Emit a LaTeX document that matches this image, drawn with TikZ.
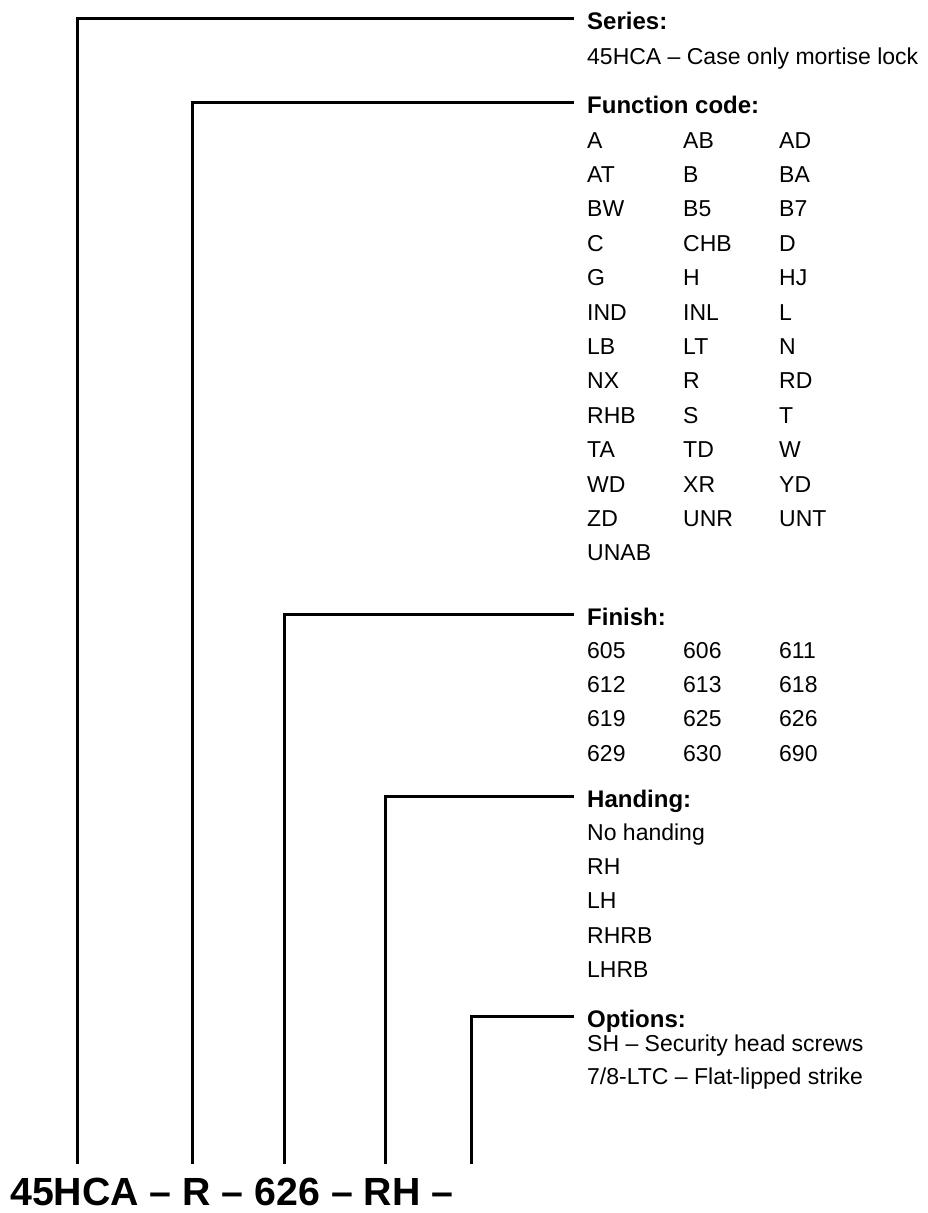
\documentclass[tikz,border=0pt]{standalone}
\usepackage{fontspec}
\setmainfont{Liberation Sans}
\usepackage{tikz}
\usetikzlibrary{positioning}
\tikzset{
  keyline/.style={line width=3pt},
  hdbox/.style={anchor=base west, inner xsep=13pt, inner ysep=0pt,
    text height=21pt, text depth=0pt,
    font=\fontsize{24}{28}\selectfont\bfseries},
  itembox/.style={anchor=base west, inner sep=0pt,
    font=\fontsize{23}{28}\selectfont},
}

\begin{document}
\begin{tikzpicture}[x=1pt, y=-1pt]
  \useasboundingbox (0,0) rectangle (927,1213);

  % ordering code along the bottom
  \node[anchor=base west, inner sep=0pt,
        font=\fontsize{39.3}{44}\selectfont\bfseries] (code) at (10,1205)
        {45HCA -- R -- 626 -- RH --};
  \foreach \name/\x in {ser/77, fn/192, fin/284, hand/385, opt/471}
    \coordinate (foot-\name) at (\x,1164);

  % series
  \node[hdbox] (hd-ser) at (574,29) {Series:};
  \node[itembox] (ser-0) at (587,64) {45HCA -- Case only mortise lock};

  % function code
  \node[hdbox] (hd-fn) at (574,113) {Function code:};
  \foreach \row [count=\r from 0] in {{A,AB,AD},{AT,B,BA},{BW,B5,B7},
      {C,CHB,D},{G,H,HJ},{IND,INL,L},{LB,LT,N},{NX,R,RD},{RHB,S,T},
      {TA,TD,W},{WD,XR,YD},{ZD,UNR,UNT},{UNAB}}{
    \foreach \item [count=\c from 0] in \row
      \node[itembox] (fn-\r-\c) at (587+96*\c, 148+34.4*\r) {\item};
  }

  % finish
  \node[hdbox] (hd-fin) at (574,625) {Finish:};
  \foreach \row [count=\r from 0] in {{605,606,611},{612,613,618},
      {619,625,626},{629,630,690}}{
    \foreach \item [count=\c from 0] in \row
      \node[itembox] (fin-\r-\c) at (587+96*\c, 658+34.4*\r) {\item};
  }

  % handing
  \node[hdbox] (hd-hand) at (574,807) {Handing:};
  \foreach \item [count=\r from 0] in {No handing,RH,LH,RHRB,LHRB}
    \node[itembox] (hand-\r) at (587, 840+34.4*\r) {\item};

  % options
  \node[hdbox] (hd-opt) at (574,1027) {Options:};
  \node[itembox] (opt-0) at (587,1051) {SH -- Security head screws};
  \node[itembox] (opt-1) at (587,1084) {7/8-LTC -- Flat-lipped strike};

  % leader lines
  \draw[keyline] (foot-ser) |- (hd-ser.west);
  \draw[keyline] (foot-fn) |- (hd-fn.west);
  \draw[keyline] (foot-fin) |- (hd-fin.west);
  \draw[keyline] (foot-hand) |- (hd-hand.west);
  \draw[keyline] (foot-opt) |- (hd-opt.west);
\end{tikzpicture}
\end{document}
